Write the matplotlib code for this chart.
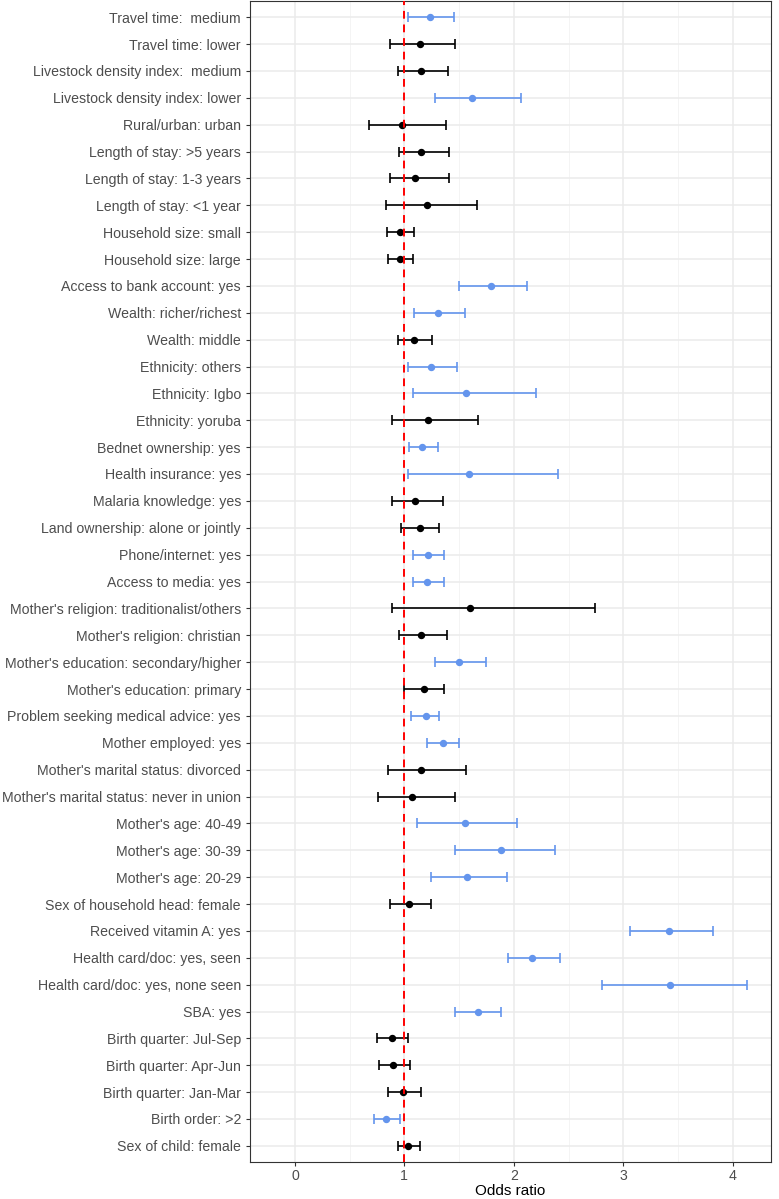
import matplotlib
matplotlib.use('Agg')
import matplotlib.pyplot as plt
from matplotlib.ticker import MultipleLocator

plt.rcParams['font.family'] = ['Liberation Sans', 'DejaVu Sans']

labels = [
    "Travel time:  medium", "Travel time: lower", "Livestock density index:  medium",
    "Livestock density index: lower", "Rural/urban: urban", "Length of stay: >5 years",
    "Length of stay: 1-3 years", "Length of stay: <1 year", "Household size: small",
    "Household size: large", "Access to bank account: yes", "Wealth: richer/richest",
    "Wealth: middle", "Ethnicity: others", "Ethnicity: Igbo", "Ethnicity: yoruba",
    "Bednet ownership: yes", "Health insurance: yes", "Malaria knowledge: yes",
    "Land ownership: alone or jointly", "Phone/internet: yes", "Access to media: yes",
    "Mother's religion: traditionalist/others", "Mother's religion: christian",
    "Mother's education: secondary/higher", "Mother's education: primary",
    "Problem seeking medical advice: yes", "Mother employed: yes",
    "Mother's marital status: divorced", "Mother's marital status: never in union",
    "Mother's age: 40-49", "Mother's age: 30-39", "Mother's age: 20-29",
    "Sex of household head: female", "Received vitamin A: yes",
    "Health card/doc: yes, seen", "Health card/doc: yes, none seen", "SBA: yes",
    "Birth quarter: Jul-Sep", "Birth quarter: Apr-Jun", "Birth quarter: Jan-Mar",
    "Birth order: >2", "Sex of child: female",
]
odds = [1.23, 1.14, 1.15, 1.62, 0.98, 1.15, 1.10, 1.21, 0.96, 0.96, 1.79, 1.31,
        1.09, 1.24, 1.56, 1.22, 1.16, 1.59, 1.10, 1.14, 1.22, 1.21, 1.60, 1.15,
        1.50, 1.18, 1.20, 1.35, 1.15, 1.07, 1.55, 1.88, 1.57, 1.04, 3.42, 2.17,
        3.43, 1.67, 0.89, 0.90, 0.99, 0.83, 1.03]
lower = [1.03, 0.87, 0.94, 1.28, 0.68, 0.95, 0.87, 0.83, 0.84, 0.85, 1.50, 1.09,
         0.94, 1.03, 1.08, 0.89, 1.04, 1.03, 0.89, 0.97, 1.08, 1.08, 0.89, 0.95,
         1.28, 1.00, 1.06, 1.21, 0.85, 0.76, 1.12, 1.46, 1.24, 0.87, 3.06, 1.95,
         2.81, 1.46, 0.75, 0.77, 0.85, 0.72, 0.94]
upper = [1.45, 1.46, 1.40, 2.07, 1.38, 1.41, 1.41, 1.66, 1.09, 1.08, 2.12, 1.55,
         1.25, 1.48, 2.20, 1.67, 1.31, 2.40, 1.35, 1.32, 1.36, 1.36, 2.74, 1.39,
         1.75, 1.36, 1.32, 1.50, 1.56, 1.46, 2.03, 2.38, 1.94, 1.24, 3.82, 2.42,
         4.13, 1.88, 1.03, 1.05, 1.15, 0.96, 1.14]
significant = [True, False, False, True, False, False, False, False, False, False,
               True, True, False, True, True, False, True, True, False, False,
               True, True, False, False, True, False, True, True, False, False,
               True, True, True, False, True, True, True, True, False, False,
               False, True, False]

n = len(labels)
fig = plt.figure(figsize=(7.79, 11.99), dpi=100)
ax = fig.add_axes([250 / 779, 1 - 1162 / 1199, 521 / 779, 1161 / 1199])

for i in range(n):
    y = n - 1 - i
    col = '#6495ED' if significant[i] else 'black'
    ax.errorbar(odds[i], y, xerr=[[odds[i] - lower[i]], [upper[i] - odds[i]]],
                fmt='o', color=col, ecolor=col, markersize=4.3, elinewidth=1.2,
                capsize=3.5, capthick=1.2, zorder=3)

# reference line at OR = 1
ax.axvline(1, color='red', linestyle=(0, (4, 3)), linewidth=1.4, zorder=4)

ax.set_yticks(range(n))
ax.set_yticklabels(labels[::-1])
ax.set_ylim(-0.6, n - 0.4)
ax.set_xlim(-0.41, 4.35)
ax.xaxis.set_major_locator(MultipleLocator(1))
ax.xaxis.set_minor_locator(MultipleLocator(0.5))
ax.grid(which='major', color='#EBEBEB', linewidth=1.1, zorder=0)
ax.grid(which='minor', axis='x', color='#F2F2F2', linewidth=0.6, zorder=0)
ax.set_axisbelow(True)
ax.tick_params(axis='both', which='major', length=3, color='#333333',
               labelsize=10.2, labelcolor='#4D4D4D', width=0.8)
ax.tick_params(axis='x', which='major', pad=2)
ax.tick_params(axis='x', which='minor', length=0)
for s in ax.spines.values():
    s.set_color('#333333')
    s.set_linewidth(0.8)
ax.set_xlabel('Odds ratio', fontsize=11, labelpad=1)

fig.savefig('out.png', dpi=100)
